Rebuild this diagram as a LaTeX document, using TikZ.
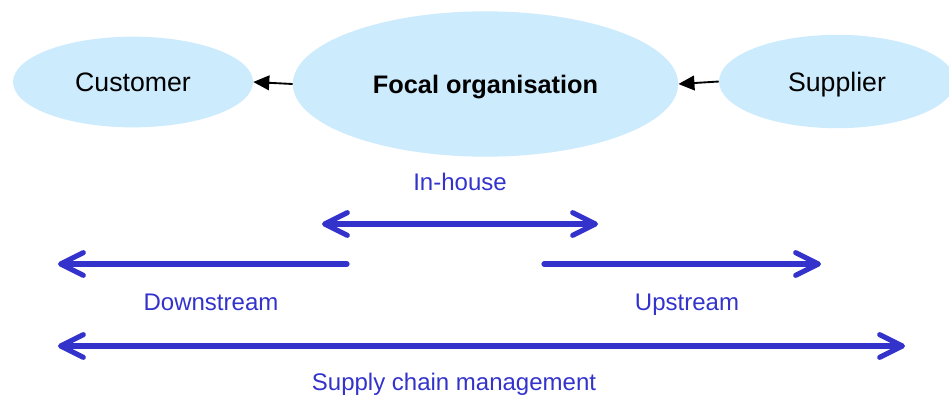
\documentclass[tikz,border=0pt]{standalone}
\usepackage{fontspec}
\setmainfont{Liberation Sans}
\usetikzlibrary{arrows.meta,shapes.geometric}
\definecolor{partyfill}{RGB}{204,235,253}
\definecolor{flowblue}{RGB}{51,51,204}
\begin{document}
\begin{tikzpicture}[x=0.75pt,y=-0.75pt,
  party/.style={ellipse, fill=partyfill, draw=none, inner sep=0pt,
    text height=14.3pt, text depth=0pt},
  linkarrow/.style={-{Triangle[length=12pt,width=11pt]}, line width=1.4pt, black},
  flow/.style={line width=3.9pt, draw=flowblue, line cap=round,
    arrows={-Straight Barb[length=17pt,width=17pt,line cap=round,line join=round]}},
  flowboth/.style={flow, arrows={Straight Barb[length=17pt,width=17pt,line cap=round,line join=round]-Straight Barb[length=17pt,width=17pt,line cap=round,line join=round]}},
  flowlabel/.style={text=flowblue, font=\fontsize{18pt}{20pt}\selectfont, inner sep=0pt, anchor=base}
]
\path[use as bounding box] (0,0) rectangle (949,397);

% parties in the chain
\node[party, minimum width=180pt, minimum height=68pt,
      font=\fontsize{20pt}{22pt}\selectfont] (customer) at (133,82) {Customer};
\node[party, minimum width=289pt, minimum height=109pt,
      font=\bfseries\fontsize{19pt}{21pt}\selectfont] (focal) at (485.5,84) {Focal organisation};
\node[party, minimum width=177pt, minimum height=70pt,
      font=\fontsize{20pt}{22pt}\selectfont] (supplier) at (837,81.5) {Supplier};

% flow of goods
\draw[linkarrow] (focal.west) -- (customer.east);
\draw[linkarrow] (supplier.west) -- (focal.east);

% scope arrows
\coordinate (inhouseL) at (322,224);
\coordinate (inhouseR) at (598,224);
\coordinate (downStart) at (347,264);
\coordinate (downEnd) at (58,264);
\coordinate (upStart) at (544,264);
\coordinate (upEnd) at (821,264);
\coordinate (scmL) at (58,346);
\coordinate (scmR) at (905,346);

\draw[flowboth] (inhouseL) -- (inhouseR);
\draw[flow] (downStart) -- (downEnd);
\draw[flow] (upStart) -- (upEnd);
\draw[flowboth] (scmL) -- (scmR);

% labels
\node[flowlabel] (inhouse) at (460,190) {In-house};
\node[flowlabel] (downstream) at (211,310) {Downstream};
\node[flowlabel] (upstream) at (687,310) {Upstream};
\node[flowlabel] (scm) at (454,390) {Supply chain management};
\end{tikzpicture}
\end{document}
